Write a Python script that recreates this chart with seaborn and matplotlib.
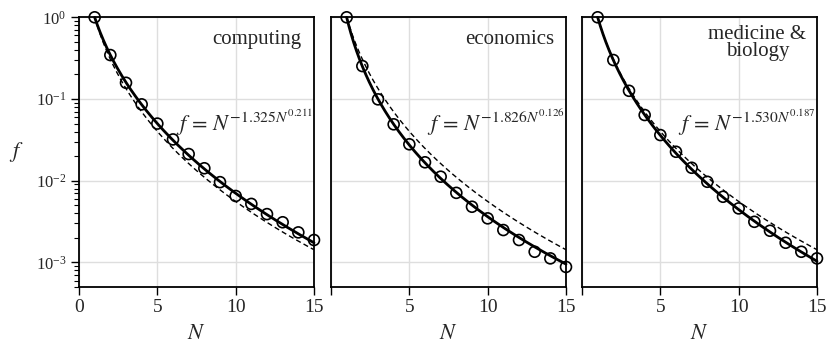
import numpy as np
import pandas as pd
import matplotlib
matplotlib.use("Agg")
import matplotlib.pyplot as plt
import seaborn as sns
from matplotlib.ticker import LogLocator, FixedLocator, NullFormatter

# ---- data ----
N = list(range(1, 16))
computing = [1.0, 0.345, 0.158, 0.086, 0.050, 0.032, 0.0212, 0.0142, 0.0096,
             0.0065, 0.0052, 0.0039, 0.0031, 0.00233, 0.00188]
economics = [1.0, 0.253, 0.099, 0.049, 0.0279, 0.0168, 0.0112, 0.0071, 0.0048,
             0.00346, 0.00249, 0.00188, 0.00135, 0.00112, 0.00088]
medicine = [1.0, 0.30, 0.126, 0.0637, 0.0362, 0.0226, 0.0144, 0.0097, 0.00636,
            0.00458, 0.00314, 0.00244, 0.00174, 0.00135, 0.00112]
series = [computing, economics, medicine]
fit_a = [1.325, 1.826, 1.530]      # fitted f = N^(-a N^b), as labelled
fit_b = [0.211, 0.126, 0.187]
ref_a = 1.51                        # dashed reference curve (estimated)
ref_b = 0.174
panel_labels = ["computing", "economics", "medicine &\nbiology"]
x_ticks = [0, 5, 10, 15]
y_ticks = [1e-3, 1e-2, 1e-1, 1e0]

sns.set_theme(style="white")
plt.rcParams["font.family"] = ["Liberation Serif", "DejaVu Serif"]
plt.rcParams["mathtext.fontset"] = "stix"

fig = plt.figure(figsize=(8.26, 3.48), dpi=100)
lefts = [79 / 826, 331 / 826, 582 / 826]
w = 235 / 826
bottom = 1 - 287 / 348
h = (287 - 17.3) / 348

Nf = np.linspace(1, 15, 400)

for i, left in enumerate(lefts):
    ax = fig.add_axes([left, bottom, w, h])
    ax.set_yscale("log")
    ref = Nf ** (-ref_a * Nf ** ref_b)
    fit = Nf ** (-fit_a[i] * Nf ** fit_b[i])
    sns.lineplot(x=Nf, y=ref, ax=ax, color="black", lw=1.0,
                 linestyle=(0, (3.7, 2.3)), zorder=2)
    sns.lineplot(x=Nf, y=fit, ax=ax, color="black", lw=2.0, zorder=3,
                 clip_on=False)
    sns.scatterplot(x=N, y=series[i], ax=ax, marker="o", s=62,
                    facecolor="none", edgecolor="black", linewidth=1.2,
                    zorder=4, clip_on=False)
    ax.set_xlim(0, 15)
    ax.set_ylim(5e-4, 1)
    ax.grid(True, which="major", color="#dedede", lw=1.0)
    ax.set_axisbelow(True)
    for sp in ax.spines.values():
        sp.set_color("black")
        sp.set_linewidth(1.3)
    ax.xaxis.set_major_locator(FixedLocator(x_ticks))
    if i == 0:
        ax.set_xticklabels([str(t) for t in x_ticks])
    else:
        ax.set_xticklabels([""] + [str(t) for t in x_ticks[1:]])
    ax.tick_params(axis="x", which="major", bottom=True, direction="out",
                   length=6, width=1, color="black", labelsize=14, pad=3)
    ax.yaxis.set_major_locator(FixedLocator(y_ticks))
    ax.yaxis.set_minor_locator(LogLocator(base=10, subs=np.arange(2, 10)))
    ax.yaxis.set_minor_formatter(NullFormatter())
    if i == 0:
        ax.tick_params(axis="y", which="major", left=True, direction="out",
                       length=6, width=1, color="black", labelsize=12, pad=3)
        ax.tick_params(axis="y", which="minor", left=True, direction="out",
                       length=3.5, width=0.8, color="black")
        ax.set_ylabel("$f$", fontsize=16, rotation=0, labelpad=14, va="center")
    else:
        ax.tick_params(axis="y", which="both", left=False, labelleft=False)
        ax.set_ylabel("")
    ax.set_xlabel("$N$", fontsize=16, labelpad=6)

    # panel label
    if i < 2:
        ax.text(0.948, 0.90, panel_labels[i], transform=ax.transAxes,
                ha="right", va="baseline", fontsize=15)
    else:
        ax.text(0.747, 0.97, panel_labels[i], transform=ax.transAxes,
                ha="center", va="top", fontsize=15, linespacing=0.85,
                multialignment="center")
    # fitted formula
    ax.text(0.995, 0.578,
            r"$f\,=\,N^{-%.3f N^{%.3f}}$" % (fit_a[i], fit_b[i]),
            transform=ax.transAxes, ha="right", va="baseline", fontsize=16)

fig.savefig("out.png", dpi=100)
